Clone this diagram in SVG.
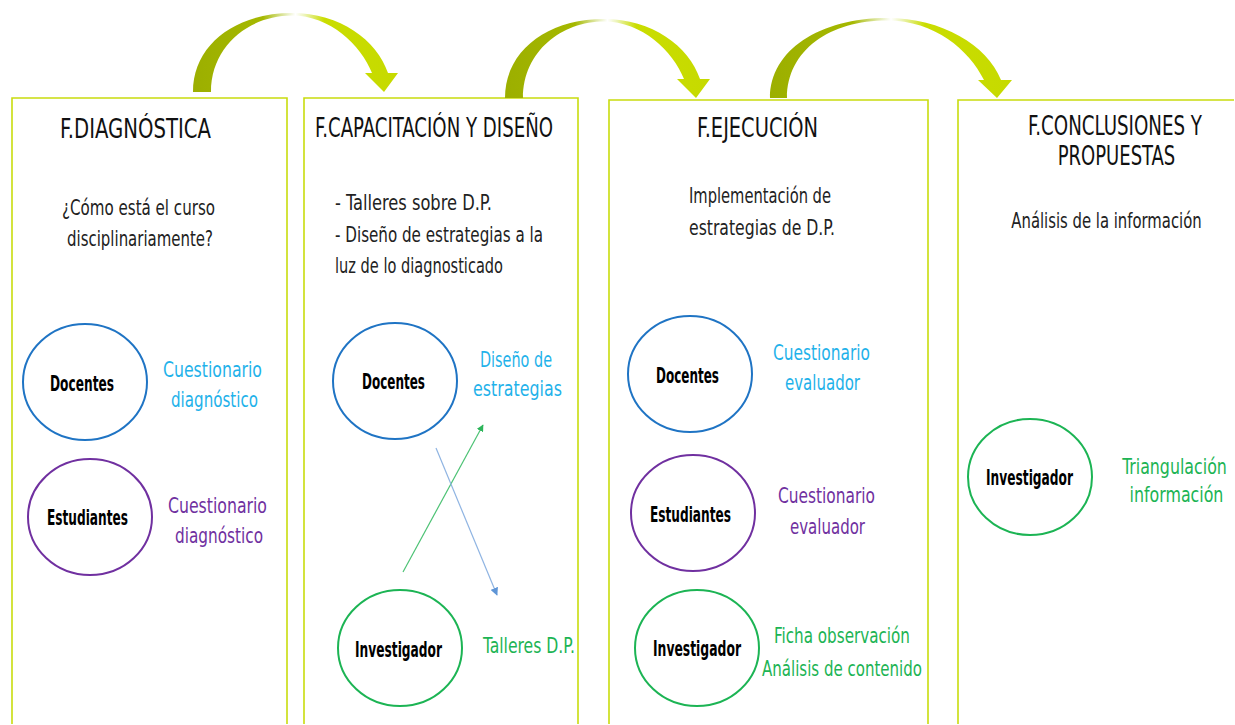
<svg xmlns="http://www.w3.org/2000/svg" width="1235" height="725" viewBox="0 0 1235 725">
<style>
.col{fill:#fff;stroke:#c9dc0e;stroke-width:1.6}
.title{font-family:"Liberation Sans Narrow","DejaVu Sans Condensed",sans-serif;font-size:26px;fill:#111}
.body{font-family:"Liberation Sans Narrow","DejaVu Sans Condensed",sans-serif;font-size:22px;fill:#222}
.lbl{font-family:"DejaVu Sans Condensed","Liberation Sans Narrow",sans-serif;font-weight:bold;font-size:22px;fill:#000;text-anchor:start}
.hand{font-family:"Liberation Sans Narrow","DejaVu Sans Condensed",sans-serif;font-size:22px}
.mid{text-anchor:middle}
.blue{fill:#1fb2ea}.purple{fill:#7030a0}.green{fill:#1cb454}
.cb{fill:#fff;stroke:#1f74c4;stroke-width:2}
.cp{fill:#fff;stroke:#7030a0;stroke-width:2}
.cg{fill:#fff;stroke:#1cb454;stroke-width:2}
.bigarrow{fill:url(#ag)}
</style>
<defs>
<linearGradient id="ag" x1="0" y1="0" x2="1" y2="0">
<stop offset="0" stop-color="#9caf00"/>
<stop offset="0.34" stop-color="#a5b800"/>
<stop offset="0.46" stop-color="#e8efc0"/>
<stop offset="0.5" stop-color="#ffffff"/>
<stop offset="0.54" stop-color="#eef5c0"/>
<stop offset="0.64" stop-color="#cadd00"/>
<stop offset="1" stop-color="#c6da00"/>
</linearGradient>
<marker id="mg" viewBox="0 0 10 10" refX="9" refY="5" markerWidth="7" markerHeight="7" orient="auto" markerUnits="userSpaceOnUse">
<path d="M0,0 L10,5 L0,10 Z" fill="#2db55a"/>
</marker>
<marker id="mb" viewBox="0 0 10 10" refX="9" refY="5" markerWidth="8" markerHeight="8" orient="auto" markerUnits="userSpaceOnUse">
<path d="M0,0 L10,5 L0,10 Z" fill="#5f95d6"/>
</marker>
</defs>
<rect width="1235" height="725" fill="#fff"/>

<g id="col1">
<path class="col" d="M12,724 V98 H287 V724"/>
<text class="title" x="60" y="138" textLength="151" lengthAdjust="spacingAndGlyphs">F.DIAGNÓSTICA</text>
<text class="body" x="62" y="215" textLength="153" lengthAdjust="spacingAndGlyphs">¿Cómo está el curso</text>
<text class="body" x="67" y="246" textLength="146" lengthAdjust="spacingAndGlyphs">disciplinariamente?</text>
</g>
<g id="col2">
<path class="col" d="M304,724 V98 H578 V724"/>
<text class="title" x="315" y="137" textLength="238" lengthAdjust="spacingAndGlyphs">F.CAPACITACIÓN Y DISEÑO</text>
<text class="body" x="335" y="210" textLength="157" lengthAdjust="spacingAndGlyphs">- Talleres sobre D.P.</text>
<text class="body" x="335" y="242" textLength="208" lengthAdjust="spacingAndGlyphs">- Diseño de estrategias a la</text>
<text class="body" x="335" y="273" textLength="168" lengthAdjust="spacingAndGlyphs">luz de lo diagnosticado</text>
</g>
<g id="col3">
<path class="col" d="M609,724 V100 H928 V724"/>
<text class="title" x="697" y="137" textLength="121" lengthAdjust="spacingAndGlyphs">F.EJECUCIÓN</text>
<text class="body" x="689" y="203" textLength="142" lengthAdjust="spacingAndGlyphs">Implementación de</text>
<text class="body" x="689" y="235" textLength="146" lengthAdjust="spacingAndGlyphs">estrategias de D.P.</text>
</g>
<g id="col4">
<path class="col" d="M958,724 V100 H1234"/>
<text class="title mid" transform="translate(1115,135) scale(0.78,1)" x="0" y="0">F.CONCLUSIONES Y</text>
<text class="title mid" transform="translate(1116.5,165) scale(0.77,1)" x="0" y="0">PROPUESTAS</text>
<text class="body mid" transform="translate(1106.5,228) scale(0.75,1)" x="0" y="0">Análisis de la información</text>
</g>

<g id="connectors">
<path class="bigarrow" d="M193,92 C193,45 235,13 292,13 C340,13 377,40 388,73 L398,73 L384,92 L365,73 L372,73 C361,45 330,15.5 292,15.5 C250,15.5 211,45 211,92 Z"/>
<path class="bigarrow" transform="translate(312,6)" d="M193,92 C193,45 235,13 292,13 C340,13 377,40 388,73 L398,73 L384,92 L365,73 L372,73 C361,45 330,15.5 292,15.5 C250,15.5 211,45 211,92 Z"/>
<path class="bigarrow" d="M770,98 C770,50 820,18 887,18 C942,18 987,45 1001,80 L1012,80 L997,98 L978,80 L984,80 C969,50 935,20.5 887,20.5 C830,20.5 787,50 787,98 Z"/>
<line x1="403" y1="572" x2="483" y2="425" stroke="#4cc274" stroke-width="1.2" marker-end="url(#mg)"/>
<line x1="436" y1="448" x2="497" y2="595" stroke="#8fb4e2" stroke-width="1.2" marker-end="url(#mb)"/>
</g>

<g id="c1-docentes">
<ellipse class="cb" cx="85" cy="382" rx="62" ry="58"/>
<text class="lbl" x="50" y="391" textLength="64" lengthAdjust="spacingAndGlyphs">Docentes</text>
<text class="hand blue" x="163" y="377" textLength="99" lengthAdjust="spacingAndGlyphs">Cuestionario</text>
<text class="hand blue" x="171" y="407" textLength="87" lengthAdjust="spacingAndGlyphs">diagnóstico</text>
</g>
<g id="c1-estudiantes">
<ellipse class="cp" cx="90" cy="517" rx="62" ry="58"/>
<text class="lbl" x="47" y="525" textLength="81" lengthAdjust="spacingAndGlyphs">Estudiantes</text>
<text class="hand purple" x="168" y="513" textLength="99" lengthAdjust="spacingAndGlyphs">Cuestionario</text>
<text class="hand purple" x="175" y="543" textLength="88" lengthAdjust="spacingAndGlyphs">diagnóstico</text>
</g>

<g id="c2-docentes">
<ellipse class="cb" cx="395" cy="381" rx="62" ry="58"/>
<text class="lbl" x="362" y="389" textLength="63" lengthAdjust="spacingAndGlyphs">Docentes</text>
<text class="hand blue" x="480" y="367" textLength="72" lengthAdjust="spacingAndGlyphs">Diseño de</text>
<text class="hand blue" x="473" y="396" textLength="89" lengthAdjust="spacingAndGlyphs">estrategias</text>
</g>
<g id="c2-investigador">
<ellipse class="cg" cx="400" cy="648" rx="62" ry="58"/>
<text class="lbl" x="355" y="657" textLength="87" lengthAdjust="spacingAndGlyphs">Investigador</text>
<text class="hand green" x="483" y="653" textLength="92" lengthAdjust="spacingAndGlyphs">Talleres D.P.</text>
</g>

<g id="c3-docentes">
<ellipse class="cb" cx="690" cy="374" rx="62" ry="58"/>
<text class="lbl" x="656" y="383" textLength="63" lengthAdjust="spacingAndGlyphs">Docentes</text>
<text class="hand blue" x="773" y="360" textLength="97" lengthAdjust="spacingAndGlyphs">Cuestionario</text>
<text class="hand blue" x="785" y="390" textLength="75" lengthAdjust="spacingAndGlyphs">evaluador</text>
</g>
<g id="c3-estudiantes">
<ellipse class="cp" cx="693" cy="513" rx="62" ry="58"/>
<text class="lbl" x="650" y="522" textLength="81" lengthAdjust="spacingAndGlyphs">Estudiantes</text>
<text class="hand purple" x="778" y="503" textLength="97" lengthAdjust="spacingAndGlyphs">Cuestionario</text>
<text class="hand purple" x="790" y="534" textLength="75" lengthAdjust="spacingAndGlyphs">evaluador</text>
</g>
<g id="c3-investigador">
<ellipse class="cg" cx="697" cy="648" rx="62" ry="58"/>
<text class="lbl" x="653" y="656" textLength="88" lengthAdjust="spacingAndGlyphs">Investigador</text>
<text class="hand green" x="774" y="643" textLength="136" lengthAdjust="spacingAndGlyphs">Ficha observación</text>
<text class="hand green" x="762" y="676" textLength="160" lengthAdjust="spacingAndGlyphs">Análisis de contenido</text>
</g>

<g id="c4-investigador">
<ellipse class="cg" cx="1030" cy="477" rx="62" ry="58"/>
<text class="lbl" x="986" y="485" textLength="87" lengthAdjust="spacingAndGlyphs">Investigador</text>
<text class="hand green mid" transform="translate(1174.5,474) scale(0.8,1)" x="0" y="0">Triangulación</text>
<text class="hand green mid" transform="translate(1176.5,502) scale(0.8,1)" x="0" y="0">información</text>
</g>
</svg>
